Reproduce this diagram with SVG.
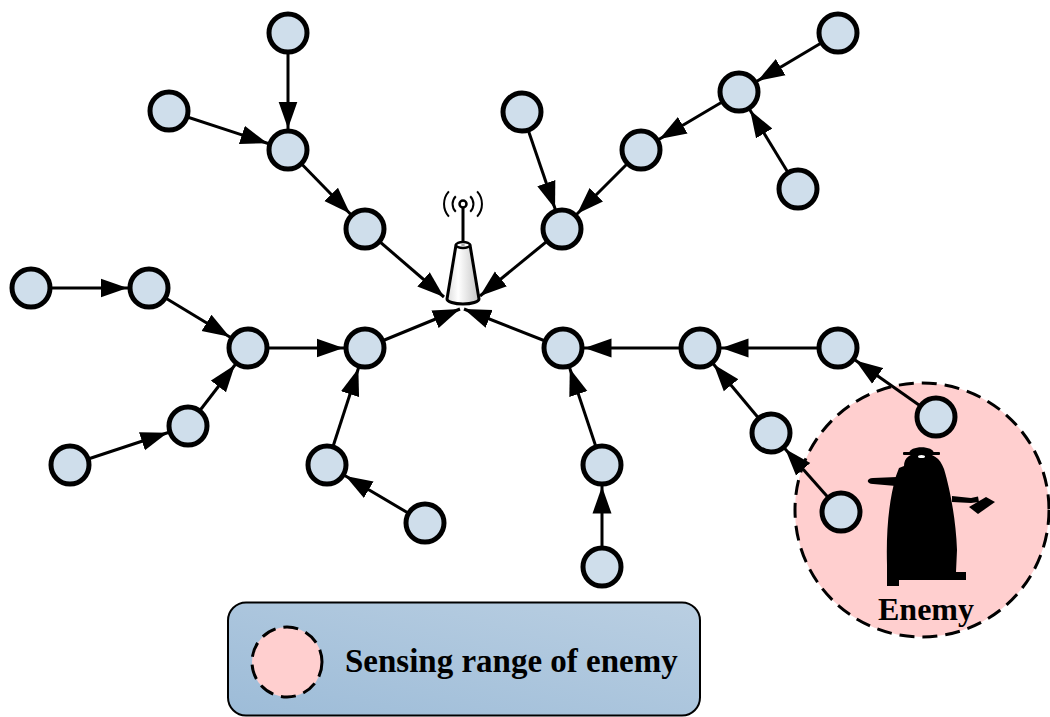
<svg xmlns="http://www.w3.org/2000/svg" width="1050" height="717" viewBox="0 0 1050 717">
  <defs>
    <style>
      .node circle { fill: #cfdeeb; stroke: #000; stroke-width: 5; }
      .edge { stroke: #000; stroke-width: 3; fill: none; }
      .hop { marker-end: url(#ah); }
      .sink { marker-end: url(#ahs); }
      .range { fill: #ffcfcf; stroke: #000; stroke-width: 3; stroke-dasharray: 15 8; }
      .label { font-family: "Liberation Serif", "Times New Roman", serif; font-weight: bold; fill: #000; }
    </style>
    <!-- arrowhead stopping at the rim of a node (r 21.5 incl. stroke) -->
    <marker id="ah" markerUnits="userSpaceOnUse" markerWidth="50" markerHeight="20" refX="48.5" refY="10" orient="auto">
      <path d="M0,0.5 L27,10 L0,19.5 Z" fill="#000"/>
    </marker>
    <!-- arrowhead whose tip is the line end -->
    <marker id="ahs" markerUnits="userSpaceOnUse" markerWidth="28" markerHeight="20" refX="27" refY="10" orient="auto">
      <path d="M0,0.5 L27,10 L0,19.5 Z" fill="#000"/>
    </marker>
    <linearGradient id="towerFill" x1="0" y1="0" x2="1" y2="0">
      <stop offset="0" stop-color="#dcdcdc"/>
      <stop offset="0.35" stop-color="#ffffff"/>
      <stop offset="1" stop-color="#c4c4c4"/>
    </linearGradient>
    <linearGradient id="legendFill" x1="0" y1="1" x2="1" y2="0">
      <stop offset="0" stop-color="#9dbcd8"/>
      <stop offset="1" stop-color="#bacfe2"/>
    </linearGradient>
  </defs>

  <rect width="1050" height="717" fill="#fff"/>

  <!-- sensing range around the enemy -->
  <circle id="enemy-range" class="range" cx="922" cy="510" r="127"/>

  <!-- links between sensor nodes -->
  <g id="connectors">
    <line class="edge hop" x1="288" y1="33" x2="288" y2="150"/>
    <line class="edge hop" x1="169" y1="111" x2="288" y2="150"/>
    <line class="edge hop" x1="288" y1="150" x2="365" y2="229"/>
    <line class="edge sink" x1="365" y1="229" x2="444" y2="297"/>
    <line class="edge hop" x1="522" y1="112" x2="562" y2="229"/>
    <line class="edge hop" x1="838" y1="33" x2="739" y2="92"/>
    <line class="edge hop" x1="798" y1="189" x2="739" y2="92"/>
    <line class="edge hop" x1="739" y1="92" x2="641" y2="150"/>
    <line class="edge hop" x1="641" y1="150" x2="562" y2="229"/>
    <line class="edge sink" x1="562" y1="229" x2="480" y2="296"/>
    <line class="edge hop" x1="31" y1="288" x2="149" y2="288"/>
    <line class="edge hop" x1="149" y1="288" x2="248" y2="348"/>
    <line class="edge hop" x1="70" y1="465" x2="188" y2="426"/>
    <line class="edge hop" x1="188" y1="426" x2="248" y2="348"/>
    <line class="edge hop" x1="248" y1="348" x2="365" y2="348"/>
    <line class="edge hop" x1="327" y1="465" x2="365" y2="348"/>
    <line class="edge hop" x1="425" y1="523" x2="327" y2="465"/>
    <line class="edge sink" x1="365" y1="348" x2="460" y2="309"/>
    <line class="edge sink" x1="563" y1="348" x2="464" y2="309"/>
    <line class="edge hop" x1="700" y1="348" x2="563" y2="348"/>
    <line class="edge hop" x1="838" y1="348" x2="700" y2="348"/>
    <line class="edge hop" x1="936" y1="417" x2="838" y2="348"/>
    <line class="edge hop" x1="771" y1="433" x2="700" y2="348"/>
    <line class="edge hop" x1="841" y1="512" x2="771" y2="433"/>
    <line class="edge hop" x1="602" y1="465" x2="563" y2="348"/>
    <line class="edge hop" x1="602" y1="567" x2="602" y2="465"/>
  </g>

  <!-- base station -->
  <g id="sink" stroke="#000" fill="none">
    <path d="M455.8,196.2 A11,11 0 0 0 455.8,211.8 M470.2,196.2 A11,11 0 0 1 470.2,211.8" stroke-width="2"/>
    <path d="M448.9,191.3 A19,19 0 0 0 448.9,216.7 M477.1,191.3 A19,19 0 0 1 477.1,216.7" stroke-width="2"/>
    <line x1="463" y1="207" x2="463" y2="244" stroke-width="3"/>
    <circle cx="463" cy="204" r="3.5" fill="#fff" stroke-width="2.5"/>
    <path d="M456,245 L447,299 A16,5 0 0 0 479,299 L470,245 Z" fill="url(#towerFill)" stroke-width="3" stroke-linejoin="round"/>
    <ellipse cx="463" cy="245" rx="7" ry="3" fill="#fff" stroke-width="2.5"/>
    <ellipse cx="463" cy="245" rx="2" ry="1" fill="#aaa" stroke="none"/>
  </g>

  <!-- sensor nodes -->
  <g id="n1" class="node"><circle cx="288" cy="33" r="19"/></g>
  <g id="n2" class="node"><circle cx="169" cy="111" r="19"/></g>
  <g id="n3" class="node"><circle cx="288" cy="150" r="19"/></g>
  <g id="n4" class="node"><circle cx="365" cy="229" r="19"/></g>
  <g id="n5" class="node"><circle cx="522" cy="112" r="19"/></g>
  <g id="n6" class="node"><circle cx="562" cy="229" r="19"/></g>
  <g id="n7" class="node"><circle cx="641" cy="150" r="19"/></g>
  <g id="n8" class="node"><circle cx="739" cy="92" r="19"/></g>
  <g id="n9" class="node"><circle cx="838" cy="33" r="19"/></g>
  <g id="n10" class="node"><circle cx="798" cy="189" r="19"/></g>
  <g id="n11" class="node"><circle cx="31" cy="288" r="19"/></g>
  <g id="n12" class="node"><circle cx="149" cy="288" r="19"/></g>
  <g id="n13" class="node"><circle cx="248" cy="348" r="19"/></g>
  <g id="n14" class="node"><circle cx="365" cy="348" r="19"/></g>
  <g id="n15" class="node"><circle cx="188" cy="426" r="19"/></g>
  <g id="n16" class="node"><circle cx="70" cy="465" r="19"/></g>
  <g id="n17" class="node"><circle cx="327" cy="465" r="19"/></g>
  <g id="n18" class="node"><circle cx="425" cy="523" r="19"/></g>
  <g id="n19" class="node"><circle cx="563" cy="348" r="19"/></g>
  <g id="n20" class="node"><circle cx="700" cy="348" r="19"/></g>
  <g id="n21" class="node"><circle cx="838" cy="348" r="19"/></g>
  <g id="n22" class="node"><circle cx="936" cy="417" r="19"/></g>
  <g id="n23" class="node"><circle cx="771" cy="433" r="19"/></g>
  <g id="n24" class="node"><circle cx="841" cy="512" r="19"/></g>
  <g id="n25" class="node"><circle cx="602" cy="465" r="19"/></g>
  <g id="n26" class="node"><circle cx="602" cy="567" r="19"/></g>

  <!-- enemy silhouette -->
  <g id="enemy" fill="#000">
    <path d="M904,466 C904,458 910,453 921,453 C933,453 940,458 944,469 C950,489 956,520 957,550 L956,572 L966,572 L966,580 L899,580 L899,586 L887,586 L887,565 C886,530 889,500 896,476 L899,468 Z"/>
    <path d="M909,453.5 C909,445 934,445 934,453.5 Z"/>
    <rect x="903" y="452" width="37" height="3" rx="1"/>
    <ellipse cx="921.5" cy="456.5" rx="3.5" ry="1.6" fill="#fff"/>
    <path d="M897,477 L873,478 C866,478 866,484 873,484 L896,486 Z"/>
    <path d="M952,496 L971,498 L978,496.5 L979,502 L971,503 L952,502 Z"/>
    <path d="M969,507 L986,497 L995,502 L978,514 Z"/>
    <text class="label" x="926" y="620" font-size="32" text-anchor="middle">Enemy</text>
  </g>

  <!-- legend -->
  <g id="legend">
    <rect x="228" y="602.5" width="472" height="113" rx="18" fill="url(#legendFill)" stroke="#000" stroke-width="2"/>
    <circle class="range" cx="287" cy="662" r="35" stroke-dasharray="13 7"/>
    <text class="label" x="345" y="672" font-size="33">Sensing range of enemy</text>
  </g>
</svg>
